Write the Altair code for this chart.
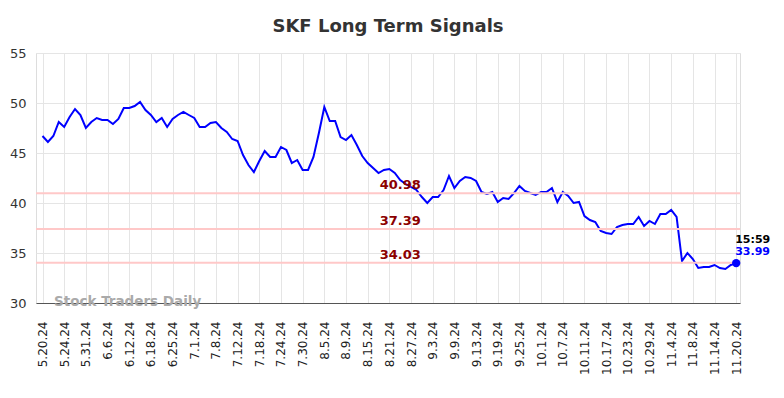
import altair as alt
import pandas as pd

labels = ["5.20.24", "5.24.24", "5.31.24", "6.6.24", "6.12.24", "6.18.24", "6.25.24",
          "7.1.24", "7.8.24", "7.12.24", "7.18.24", "7.24.24", "7.30.24", "8.5.24",
          "8.9.24", "8.15.24", "8.21.24", "8.27.24", "9.3.24", "9.9.24", "9.13.24",
          "9.19.24", "9.25.24", "10.1.24", "10.7.24", "10.11.24", "10.17.24", "10.23.24",
          "10.29.24", "11.4.24", "11.8.24", "11.14.24", "11.20.24"]

prices = [46.7, 46.1, 46.7, 48.1, 47.6,
          48.6, 49.4, 48.8, 47.5,
          48.1, 48.5, 48.3, 48.3,
          47.9, 48.4, 49.5, 49.5,
          49.7, 50.1, 49.3, 48.8,
          48.1, 48.5, 47.6, 48.4,
          48.8, 49.1, 48.8, 48.5,
          47.6, 47.6, 48.0, 48.1,
          47.5, 47.1, 46.4, 46.2,
          44.8, 43.8, 43.1, 44.2,
          45.2, 44.6, 44.6, 45.6,
          45.3, 44.0, 44.3, 43.3,
          43.3, 44.6, 47.0, 49.6,
          48.2, 48.2, 46.6, 46.3,
          46.8, 45.8, 44.7, 44.0,
          43.5, 43.0, 43.3, 43.4,
          43.0, 42.3, 41.9, 41.6,
          41.3, 40.6, 40.0, 40.6,
          40.6, 41.3, 42.7, 41.5,
          42.2, 42.6, 42.5, 42.2,
          41.1, 40.9, 41.1, 40.1,
          40.5, 40.4, 41.0, 41.7,
          41.2, 41.0, 40.8, 41.1,
          41.1, 41.5, 40.1, 41.1,
          40.7, 40.0, 40.1, 38.7,
          38.3, 38.1, 37.2, 37.0,
          36.9, 37.6, 37.8, 37.9,
          37.9, 38.6, 37.7, 38.2,
          37.9, 38.9, 38.9, 39.3,
          38.6, 34.2, 35.0, 34.4,
          33.5, 33.6, 33.6, 33.8,
          33.5, 33.4, 33.8, 33.99]

levels = [40.98, 37.39, 34.03]
level_labels = ["40.98", "37.39", "34.03"]
last_time = "15:59"

df = pd.DataFrame({"i": list(range(len(prices))), "price": prices})
lev = pd.DataFrame({"y": levels, "label": level_labels, "i": [66] * len(levels)})
last = df.tail(1).copy()
last["time"] = last_time
last["ptxt"] = [f"{v:.2f}" for v in last["price"]]

label_arr = "[" + ",".join(f"'{l}'" for l in labels) + "]"

xscale = alt.Scale(domain=[-1.2, 128.7], nice=False, zero=False)
yscale = alt.Scale(domain=[30, 55], nice=False, zero=False)

x_axis = alt.Axis(values=list(range(0, 129, 4)), labelExpr=f"{label_arr}[datum.value/4]",
                  labelAngle=-90, labelFontSize=12, labelColor="#222", labelFont="DejaVu Sans",
                  labelPadding=18, ticks=False, domainColor="#555", domainWidth=1.2,
                  gridColor="#e5e5e5", title=None, labelBaseline="middle", labelAlign="right",
                  labelOverlap=False, labelBound=False, labelFlush=False)
y_axis = alt.Axis(values=[30, 35, 40, 45, 50, 55], labelFontSize=13, labelColor="#333",
                  labelFont="DejaVu Sans", ticks=False, domain=False, gridColor="#e5e5e5",
                  title=None, labelPadding=10)

X = alt.X("i:Q", scale=xscale, axis=x_axis)
Y = alt.Y("price:Q", scale=yscale, axis=y_axis)
YL = alt.Y("y:Q", scale=yscale, axis=y_axis)

rules = alt.Chart(lev).mark_rule(color="#ffc8c8", strokeWidth=2).encode(y=YL)

lev_text = alt.Chart(lev).mark_text(color="#8b0000", fontSize=13, fontWeight="bold",
                                    font="DejaVu Sans", baseline="bottom", dy=-1).encode(
    x=X, y=YL, text="label:N"
)

line = alt.Chart(df).mark_line(color="#0000ff", strokeWidth=2).encode(x=X, y=Y)

dot = alt.Chart(last).mark_point(color="#0000ff", filled=True, size=70, opacity=1).encode(x=X, y=Y)

time_txt = alt.Chart(last).mark_text(color="#000", fontSize=11, fontWeight="bold",
                                     font="DejaVu Sans", align="left", dx=-1, dy=-23).encode(
    x=X, y=Y, text="time:N"
)
price_txt = alt.Chart(last).mark_text(color="#0000ff", fontSize=11, fontWeight="bold",
                                      font="DejaVu Sans", align="left", dx=-1, dy=-11).encode(
    x=X, y=Y, text="ptxt:N"
)

wm = alt.Chart(pd.DataFrame({"t": ["Stock Traders Daily"]})).mark_text(
    color="#aaaaaa", fontSize=13.5, fontWeight="bold", font="DejaVu Sans",
    align="left", baseline="middle").encode(
    x=alt.value(18), y=alt.value(249), text="t:N"
)

chart = alt.layer(line, rules, lev_text, dot, time_txt, price_txt, wm).properties(
    width=704, height=250,
    title=alt.TitleParams("SKF Long Term Signals", fontSize=18, fontWeight="bold",
                          color="#333333", font="DejaVu Sans", offset=11, anchor="middle"),
    autosize=alt.AutoSizeParams(type="none"),
    padding={"left": 28, "top": 45, "right": 36, "bottom": 87},
).configure_view(stroke=None).configure(background="white").configure_axisX(
    labelOverlap=False, labelBound=False, labelFlush=False
)

chart.save("out.html", embed_options={"renderer": "svg", "actions": False})
